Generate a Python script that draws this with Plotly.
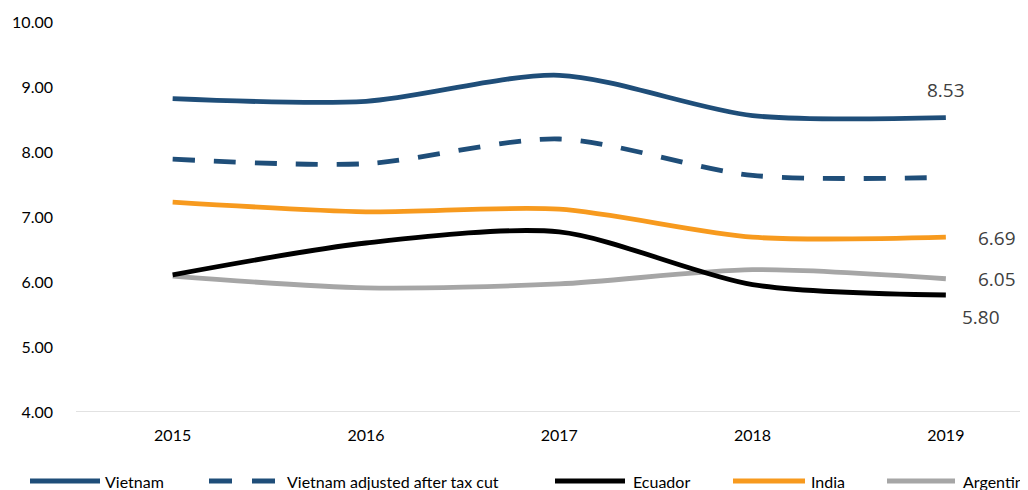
import plotly.graph_objects as go

years = ["2015", "2016", "2017", "2018", "2019"]
vietnam = [8.82, 8.78, 9.18, 8.56, 8.53]
vietnam_adj = [7.89, 7.82, 8.20, 7.64, 7.61]
ecuador = [6.11, 6.60, 6.77, 5.96, 5.80]
india = [7.23, 7.08, 7.12, 6.69, 6.69]
argentina = [6.09, 5.91, 5.97, 6.19, 6.05]
series_names = ["Vietnam", "Vietnam adjusted after tax cut", "Ecuador", "India", "Argentina"]
y_ticks = [4, 5, 6, 7, 8, 9, 10]

BLUE = "#1F4E79"
ORANGE = "#F79A1E"
BLACK = "#000000"
GRAY = "#A6A6A6"

xs = list(range(len(years)))
fig = go.Figure()

specs = [
    (vietnam, series_names[0], BLUE, "solid"),
    (vietnam_adj, series_names[1], BLUE, "22px,19px"),
    (ecuador, series_names[2], BLACK, "solid"),
    (india, series_names[3], ORANGE, "solid"),
    (argentina, series_names[4], GRAY, "solid"),
]
for vals, name, color, dash in [specs[4], specs[3], specs[2], specs[1], specs[0]]:
    fig.add_trace(go.Scatter(
        x=xs, y=vals, name=name, mode="lines",
        line=dict(color=color, width=4.8, dash=dash, shape="spline", smoothing=0.8),
        showlegend=False, hoverinfo="skip",
    ))

label_font = dict(family="Open Sans", size=19, color="#404040")
last = len(years) - 1
fig.add_annotation(x=last, y=vietnam[-1], text=f"{vietnam[-1]:.2f}", showarrow=False,
                   yshift=28, xshift=0, font=label_font)
fig.add_annotation(x=last, y=india[-1], text=f"{india[-1]:.2f}", showarrow=False,
                   xshift=51, yshift=-1, font=label_font)
fig.add_annotation(x=last, y=argentina[-1], text=f"{argentina[-1]:.2f}", showarrow=False,
                   xshift=51, yshift=0, font=label_font)
fig.add_annotation(x=last, y=ecuador[-1], text=f"{ecuador[-1]:.2f}", showarrow=False,
                   xshift=35, yshift=-22, font=label_font)

# page has an 8px body margin; figure drawn at (8,8) in the 1028x490 window
OFF = 8
W = 1028.0 - OFF
H = 490 - OFF
L = 76.0 - OFF
T = 22 - OFF
PH = 390
B = H - T - PH
PW = W - L

legend_items = [
    (series_names[0], BLUE, [(30, 100)], 103),
    (series_names[1], BLUE, [(209, 232), (252, 275)], 285),
    (series_names[2], BLACK, [(555, 625)], 631),
    (series_names[3], ORANGE, [(733, 805)], 809),
    (series_names[4], GRAY, [(887, 955)], 961),
]
leg_center = 481 - OFF  # figure px
LEG_Y = -(leg_center - (T + PH)) / PH
for name, color, segs, tx in legend_items:
    for a, b in segs:
        fig.add_shape(type="line", xref="paper", yref="paper",
                      x0=(a - OFF - L) / PW, x1=(b - OFF - L) / PW, y0=LEG_Y, y1=LEG_Y,
                      line=dict(color=color, width=5))
    fig.add_annotation(xref="paper", yref="paper", x=(tx - OFF - L) / PW, y=LEG_Y,
                       xanchor="left", yanchor="middle", text=name, showarrow=False,
                       font=dict(family="Lato", size=16, color="#000000"))

fig.update_layout(
    width=int(W), height=H,
    margin=dict(l=int(L), r=0, t=T, b=B),
    paper_bgcolor="white", plot_bgcolor="white",
    showlegend=False,
    xaxis=dict(
        range=[-0.5, 4.425], tickmode="array", tickvals=xs, ticktext=years,
        showgrid=False, zeroline=False, showline=False, ticks="",
        tickfont=dict(family="Lato", size=16, color="#000000"),
        ticklabelstandoff=12,
    ),
    yaxis=dict(
        range=[4, 10], tickmode="array", tickvals=y_ticks,
        ticktext=[f"{v:.2f}" for v in y_ticks],
        showgrid=False, zeroline=False, showline=False, ticks="",
        tickfont=dict(family="Lato", size=16, color="#000000"),
        ticklabelstandoff=22,
    ),
)
fig.add_shape(type="line", xref="paper", yref="y", x0=0, x1=1, y0=4, y1=4,
              line=dict(color="#D9D9D9", width=1.5), layer="below")

fig.write_html("out.html")
